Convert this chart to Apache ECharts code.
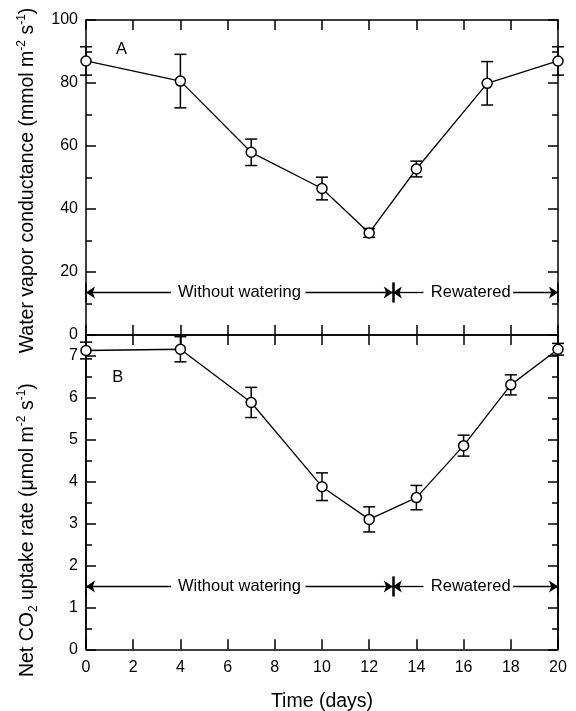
<!DOCTYPE html>
<html>
<head>
<meta charset="utf-8">
<script src="https://cdn.jsdelivr.net/npm/echarts@6/dist/echarts.min.js"></script>
<style>
  html, body { margin: 0; padding: 0; background: #fff; }
  #chart { width: 576px; height: 711px; }
</style>
</head>
<body>
<div id="chart"></div>
<script>
// panel A: water vapor conductance
const gsDays = [0, 4, 7, 10, 12, 14, 17, 20];
const gsMean = [87.0, 80.6, 58.0, 46.5, 32.4, 52.7, 79.9, 87.0];
const gsErr = [4.5, 8.5, 4.2, 3.6, 1.4, 2.5, 6.9, 4.5];
// panel B: net CO2 uptake
const pnDays = [0, 4, 7, 10, 12, 14, 16, 18, 20];
const pnMean = [7.13, 7.16, 5.89, 3.88, 3.10, 3.62, 4.86, 6.31, 7.16];
const pnErr = [0.20, 0.30, 0.36, 0.33, 0.30, 0.29, 0.25, 0.24, 0.14];
// treatment phases (days) and their names
const phaseBounds = [0, 13, 20];
const phaseNames = ["Without watering", "Rewatered"];

const FONT = "Liberation Sans, Arial, sans-serif";
const black = "#000";

const chart = echarts.init(document.getElementById("chart"), null, { renderer: "canvas" });

function xAx(grid, pos, showLabel) {
  return {
    type: "value", gridIndex: grid, position: pos, min: 0, max: 20, interval: 2,
    axisLine: { show: true, onZero: false, lineStyle: { color: black, width: 1.5 } },
    axisTick: { show: true, inside: true, length: 10, lineStyle: { color: black, width: 1.5 } },
    axisLabel: { show: showLabel, color: black, fontSize: 16, fontFamily: FONT, margin: 10 },
    splitLine: { show: false },
  };
}

function yAx(grid, pos, max, interval, tickLen, showLabel) {
  return {
    type: "value", gridIndex: grid, position: pos, min: 0, max: max, interval: interval,
    axisLine: { show: true, onZero: false, lineStyle: { color: black, width: 1.5 } },
    axisTick: { show: true, inside: true, length: tickLen, lineStyle: { color: black, width: 1.5 } },
    axisLabel: { show: showLabel, color: black, fontSize: 16, fontFamily: FONT, margin: 8, showMaxLabel: max % interval === 0 },
    splitLine: { show: false },
  };
}

function nameStyle(padding) {
  return {
    color: black, fontSize: 19.5, fontFamily: FONT, lineHeight: 24, padding: padding,
    rich: {
      sup: { fontSize: 12, fontFamily: FONT, color: black, verticalAlign: "top", lineHeight: 24 },
      sub: { fontSize: 12, fontFamily: FONT, color: black, verticalAlign: "bottom", lineHeight: 24 },
    },
  };
}

function errorSeries(xi, yi, xs, mean, err) {
  return {
    type: "custom", xAxisIndex: xi, yAxisIndex: yi, silent: true, z: 3,
    data: xs.map((d, i) => [d, mean[i] - err[i], mean[i] + err[i]]),
    encode: { x: 0, y: [1, 2] },
    renderItem(params, api) {
      const lo = api.coord([api.value(0), api.value(1)]);
      const hi = api.coord([api.value(0), api.value(2)]);
      const w = 6;
      const style = { stroke: black, lineWidth: 1.5 };
      return {
        type: "group",
        children: [
          { type: "line", shape: { x1: lo[0], y1: lo[1], x2: hi[0], y2: hi[1] }, style },
          { type: "line", shape: { x1: lo[0] - w, y1: lo[1], x2: lo[0] + w, y2: lo[1] }, style },
          { type: "line", shape: { x1: hi[0] - w, y1: hi[1], x2: hi[0] + w, y2: hi[1] }, style },
        ],
      };
    },
  };
}

// arrows "<-- Without watering -->|<-- Rewatered -->" at level yv
function phaseMarks(yv, half) {
  const seg = (from, to) => [{ coord: [from, yv] }, { coord: [to, yv] }];
  const bar = (d, w) => [
    { coord: [d, yv - half], symbol: "none", lineStyle: { width: w } },
    { coord: [d, yv + half], symbol: "none" },
  ];
  return {
    silent: true, animation: false,
    symbol: ["none", "arrow"], symbolSize: 9,
    label: { show: false },
    lineStyle: { color: black, type: "solid", width: 1.3 },
    data: [
      seg(3.6, phaseBounds[0]), seg(9.3, phaseBounds[1]),
      seg(14.3, phaseBounds[1]), seg(18.1, phaseBounds[2]),
      bar(phaseBounds[0], 1.5), bar(phaseBounds[1], 2.5), bar(phaseBounds[2], 1.5),
    ],
  };
}

function textSeries(xi, yi, items) {
  return {
    type: "scatter", xAxisIndex: xi, yAxisIndex: yi, silent: true,
    symbolSize: 1, itemStyle: { color: "transparent", opacity: 1 },
    data: items,
    label: {
      show: true, position: "inside", color: black, fontSize: 16.5, fontFamily: FONT,
      opacity: 1, textBorderWidth: 0, formatter: p => p.value[2],
    },
  };
}

function lineSeries(xi, yi, xs, mean, marks) {
  return {
    type: "line", xAxisIndex: xi, yAxisIndex: yi, z: 4,
    data: xs.map((d, i) => [d, mean[i]]),
    symbol: "circle", symbolSize: 10, showAllSymbol: true,
    itemStyle: { color: "#fff", borderColor: black, borderWidth: 1.5 },
    lineStyle: { color: black, width: 1.3 },
    markLine: marks,
    animation: false,
  };
}

chart.setOption({
  animation: false,
  grid: [
    { left: 86, right: 18, top: 20, height: 315, outerBoundsMode: "none", containLabel: false },
    { left: 86, right: 18, top: 335, height: 314.3, outerBoundsMode: "none", containLabel: false },
  ],
  xAxis: [
    xAx(0, "bottom", false),
    xAx(0, "top", false),
    Object.assign(xAx(1, "bottom", true), {
      name: "Time (days)", nameLocation: "middle", nameGap: 42,
      nameTextStyle: { color: black, fontSize: 19.5, fontFamily: FONT },
    }),
    xAx(1, "top", false),
  ],
  yAxis: [
    Object.assign(yAx(0, "left", 100, 20, 10, true), {
      minorTick: { show: true, splitNumber: 2, length: 6, lineStyle: { color: black, width: 1.5 } },
      name: "Water vapor conductance (mmol m{sup|-2} s{sup|-1})",
      nameLocation: "middle", nameGap: 46, nameTextStyle: nameStyle([0, 6, 0, 0]),
    }),
    Object.assign(yAx(0, "right", 100, 20, 10, false), {
      minorTick: { show: true, splitNumber: 2, length: 6, lineStyle: { color: black, width: 1.5 } },
    }),
    Object.assign(yAx(1, "left", 7.5, 1, 10, true), {
      name: "Net CO{sub|2} uptake rate (\u03bcmol m{sup|-2} s{sup|-1})",
      nameLocation: "middle", nameGap: 46, nameTextStyle: nameStyle([0, 76, 0, 0]),
    }),
    yAx(1, "right", 7.5, 1, 10, false),
    // half-unit short ticks for panel B
    yAx(1, "left", 7.5, 0.5, 6, false),
    yAx(1, "right", 7.5, 0.5, 6, false),
  ],
  series: [
    errorSeries(0, 0, gsDays, gsMean, gsErr),
    lineSeries(0, 0, gsDays, gsMean, phaseMarks(13.5, 3.2)),
    textSeries(0, 0, [[6.5, 13.5, phaseNames[0]], [16.3, 13.5, phaseNames[1]], [1.5, 90.5, "A"]]),
    errorSeries(2, 2, pnDays, pnMean, pnErr),
    lineSeries(2, 2, pnDays, pnMean, phaseMarks(1.5, 0.24)),
    textSeries(2, 2, [[6.5, 1.5, phaseNames[0]], [16.3, 1.5, phaseNames[1]], [1.35, 6.48, "B"]]),
  ],
});
</script>
</body>
</html>
